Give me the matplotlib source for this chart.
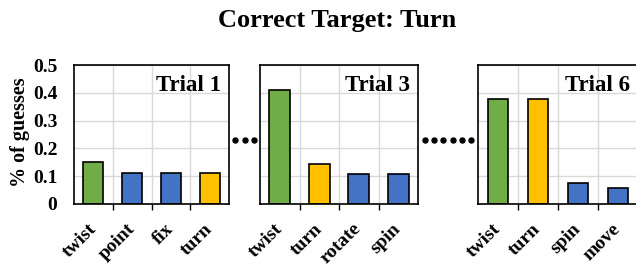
import numpy as np
import matplotlib
matplotlib.use("Agg")
import matplotlib.pyplot as plt
import matplotlib.transforms as mtransforms
from matplotlib.lines import Line2D

# ==========================================
# Data
# ==========================================

trial_names = ["Trial 1", "Trial 3", "Trial 6"]

trial1_labels = ["twist", "point", "fix", "turn"]
trial1_values = [0.15, 0.11, 0.11, 0.11]

trial3_labels = ["twist", "turn", "rotate", "spin"]
trial3_values = [0.41, 0.145, 0.107, 0.107]

trial6_labels = ["twist", "turn", "spin", "move"]
trial6_values = [0.377, 0.377, 0.075, 0.057]

yticks = [0, 0.1, 0.2, 0.3, 0.4, 0.5]
ytick_labels = ["0", "0.1", "0.2", "0.3", "0.4", "0.5"]

GREEN = "#70AD47"
BLUE = "#4472C4"
GOLD = "#FFC000"

# target word (turn) in gold, first guess in green, rest blue
trial1_colors = [GREEN, BLUE, BLUE, GOLD]
trial3_colors = [GREEN, GOLD, BLUE, BLUE]
trial6_colors = [GREEN, GOLD, BLUE, BLUE]

# ==========================================
# Figure
# ==========================================

plt.rcParams["font.family"] = ["Liberation Serif", "DejaVu Serif"]
plt.rcParams["font.weight"] = "bold"

W, H = 636, 264
fig = plt.figure(figsize=(W / 100, H / 100), dpi=100)

# axes boxes in pixels (left, right, top, bottom)
boxes = [(74, 229, 65, 204), (260, 418, 65, 204), (478, 638, 65, 204)]

panels = [
    (trial1_labels, trial1_values, trial1_colors),
    (trial3_labels, trial3_values, trial3_colors),
    (trial6_labels, trial6_values, trial6_colors),
]

shift = mtransforms.ScaledTranslation(5 / 100, 0, fig.dpi_scale_trans)

for i, ((labels, values, colors), (l, r, t, b)) in enumerate(zip(panels, boxes)):
    ax = fig.add_axes([l / W, (H - b) / H, (r - l) / W, (b - t) / H])
    x = np.arange(1, len(labels) + 1)
    ax.bar(x, values, width=0.52, color=colors, edgecolor="black",
           linewidth=1.2, zorder=3)

    ax.set_xlim(0.5, len(labels) + 0.5)
    ax.set_ylim(0, 0.5)
    ax.set_yticks(yticks)
    ax.set_xticks(x)
    ax.set_xticks(np.arange(1.5, len(labels), 1.0), minor=True)

    ax.grid(True, axis="y", color="#D9D9D9", linewidth=1.0, zorder=0)
    ax.grid(True, axis="x", which="minor", color="#D9D9D9", linewidth=1.0, zorder=0)

    ax.set_xticklabels(labels, rotation=45, ha="right", va="center",
                       rotation_mode="anchor", fontsize=14, fontweight="bold")
    for lab in ax.get_xticklabels():
        lab.set_transform(lab.get_transform() + shift)
    ax.tick_params(axis="x", which="major", length=0, pad=16)
    ax.tick_params(axis="x", which="minor", length=4, width=1.0,
                   direction="out", color="black")

    if i == 0:
        ax.set_yticklabels(ytick_labels, fontsize=14, fontweight="bold")
        ax.tick_params(axis="y", length=0, pad=12)
    else:
        ax.set_yticklabels([])
        ax.tick_params(axis="y", length=0)

    for side in ["top", "right", "left", "bottom"]:
        ax.spines[side].set_color("black")
        ax.spines[side].set_linewidth(1.2)
        ax.spines[side].set_zorder(4)

    ax.text(0.95, 0.93, trial_names[i], transform=ax.transAxes,
            ha="right", va="top", fontsize=16.5, fontweight="bold", zorder=5)

fig.text(20 / W, 1 - 132 / H, "% of guesses", rotation=90, ha="center",
         va="center", fontsize=14.5, fontweight="bold")

# dots between panels (skipped trials)
dot_y = 1 - 140 / H
for xs in [np.linspace(235, 254, 3), np.linspace(425, 471, 6)]:
    fig.add_artist(Line2D(xs / W, [dot_y] * len(xs), linestyle="none",
                          marker="o", markersize=3.6, color="black"))

fig.text(337 / W, 1 - 21 / H, "Correct Target: Turn", ha="center", va="center",
         fontsize=19, fontweight="bold")

fig.savefig("out.png", dpi=100)
